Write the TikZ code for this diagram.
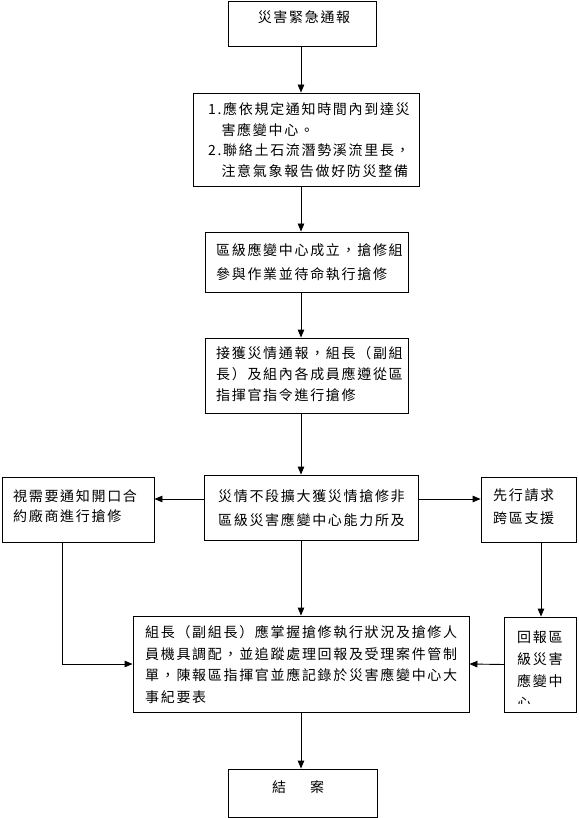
\documentclass[tikz,border=0pt]{standalone}
\usepackage{fontspec}
\newfontfamily\cjk[LetterSpace=12]{Noto Sans CJK TC}
\usetikzlibrary{arrows.meta}
\begin{document}
\begin{tikzpicture}[x=1pt,y=-1pt,
  flowbox/.style={draw, line width=0.9pt, inner sep=0pt},
  txt/.style={font=\cjk\fontsize{14}{#1}\selectfont, inner sep=0pt, anchor=north west, align=left},
  ctxt/.style={font=\cjk\fontsize{14}{16}\selectfont, inner sep=0pt, anchor=center},
  conn/.style={line width=0.9pt, -{Triangle[length=8pt,width=6.5pt]}},
  plain/.style={line width=0.9pt}]
\useasboundingbox (0,0) rectangle (578,818);
\coordinate (ax) at (301,0);
\coordinate (lx) at (62,0);
\coordinate (rx) at (541,0);
\coordinate (row) at (0,499);

% boxes
\node[flowbox, minimum width=148pt, minimum height=45pt] (b1) at (302,23.5) {};
\node[flowbox, minimum width=226pt, minimum height=93pt] (b2) at (306,139.5) {};
\node[flowbox, minimum width=203pt, minimum height=60pt] (b3) at (306.5,262) {};
\node[flowbox, minimum width=203pt, minimum height=75pt] (b4) at (306.5,375.5) {};
\node[flowbox, minimum width=214pt, minimum height=65pt] (b5) at (311,507.5) {};
\node[flowbox, minimum width=152pt, minimum height=65pt] (b6) at (78,509.5) {};
\node[flowbox, minimum width=95pt, minimum height=65pt] (bR) at (528.5,509.5) {};
\node[flowbox, minimum width=336pt, minimum height=96pt] (b7) at (301,664) {};
\node[flowbox, minimum width=72pt, minimum height=95pt] (b8) at (540.5,664.5) {};
\node[flowbox, minimum width=149pt, minimum height=48pt] (b9) at (302.5,793) {};

% texts
\node[ctxt] (t1) at (304,17) {災害緊急通報};
\node[txt=20.5] (t2) at (208,102.5) {1.應依規定通知時間內到達災\\\phantom{1.}害應變中心。\\2.聯絡土石流潛勢溪流里長，\\\phantom{2.}注意氣象報告做好防災整備};
\node[txt=24] (t3) at (216,243.5) {區級應變中心成立，搶修組\\參與作業並待命執行搶修};
\node[txt=21] (t4) at (216,346.5) {接獲災情通報，組長（副組\\長）及組內各成員應遵從區\\指揮官指令進行搶修};
\node[txt=24] (t5) at (218,489.5) {災情不段擴大獲災情搶修非\\區級災害應變中心能力所及};
\node[txt=20] (t6) at (13,489.5) {視需要通知開口合\\約廠商進行搶修};
\node[txt=23] (tR) at (493,488.5) {先行請求\\跨區支援};
\node[txt=21.5] (t7) at (145,625.5) {組長（副組長）應掌握搶修執行狀況及搶修人\\員機具調配，並追蹤處理回報及受理案件管制\\單，陳報區指揮官並應記錄於災害應變中心大\\事紀要表};
\begin{scope}
\clip (505,618) rectangle (577,703);
\node[txt=22] (t8) at (517,630.5) {回報區\\級災害\\應變中\\心};
\end{scope}
\node[ctxt] (t9) at (298,787) {結\hspace{24pt}案};

% connectors
\draw[conn] (b1.south -| ax) -- (b2.north -| ax);
\draw[conn] (b2.south -| ax) -- (b3.north -| ax);
\draw[conn] (b3.south -| ax) -- (b4.north -| ax);
\draw[conn] (b4.south -| ax) -- (b5.north -| ax);
\draw[conn] (b5.south -| ax) -- (b7.north -| ax);
\draw[conn] (b7.south -| ax) -- (b9.north -| ax);
\draw[conn] (b5.west |- row) -- (b6.east |- row);
\draw[conn] (b5.east |- row) -- (bR.west |- row);
\draw[conn] (b6.south -| lx) |- (b7.west);
\draw[conn] (bR.south -| rx) -- (b8.north -| rx);
\draw[conn] (b8.west) -- (b7.east);
\end{tikzpicture}
\end{document}
